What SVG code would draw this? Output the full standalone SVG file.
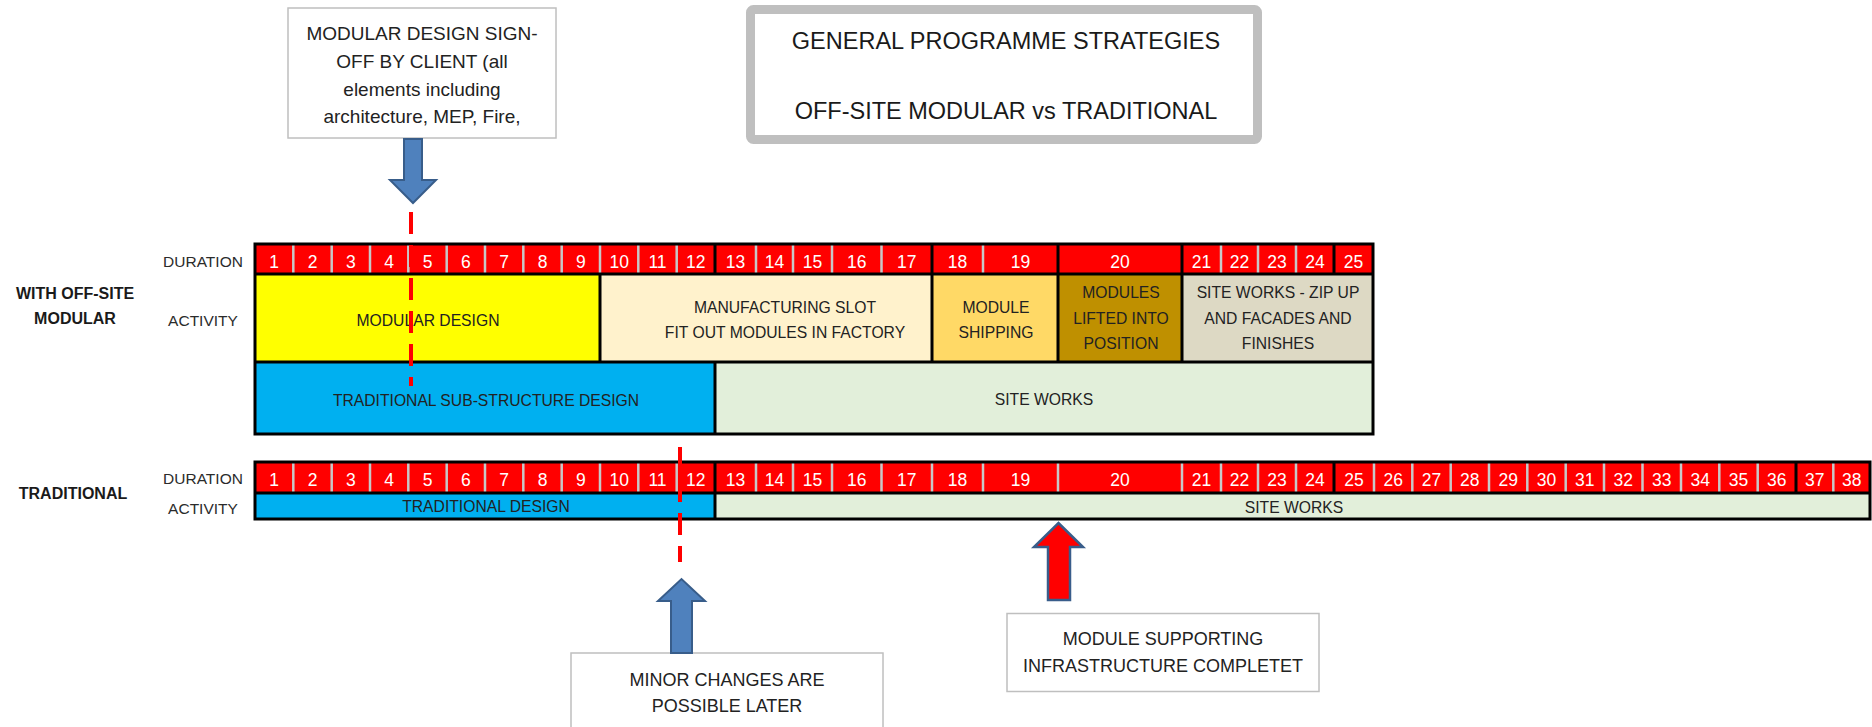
<svg xmlns="http://www.w3.org/2000/svg" width="1872" height="727" viewBox="0 0 1872 727">
  <style>
    text { font-family: "Liberation Sans", Arial, sans-serif; fill: #222; text-anchor: middle; }
    .lbl { font-size: 15.5px; fill: #2b2b2b; }
    .grp { font-size: 16px; font-weight: bold; fill: #1a1a1a; }
    .act { font-size: 15.7px; }
    .num { font-size: 17.5px; fill: #fff; }
    .note { font-size: 18px; fill: #222; }
    .title { font-size: 23.5px; fill: #1a1a1a; }
    .dur { fill: #ff0000; }
    .sep { stroke: #c8c8c8; stroke-width: 2.5; }
    .blk { stroke: #000; stroke-width: 3; fill: none; }
    .callout { fill: #fff; stroke: #bfbfbf; stroke-width: 1.5; }
    .dash { stroke: #ff0000; stroke-width: 4; stroke-dasharray: 22 11; fill: none; }
    .arrow-blue { fill: #4f81bd; stroke: #385d8a; stroke-width: 2; }
    .arrow-red { fill: #ff0000; stroke: #385d8a; stroke-width: 2.5; }
  </style>

  <!-- Title -->
  <g id="title">
    <rect x="750.5" y="9.5" width="507" height="130" rx="3" fill="#fff" stroke="#bfbfbf" stroke-width="9"/>
    <text class="title" x="1006" y="48.5">GENERAL PROGRAMME STRATEGIES</text>
    <text class="title" x="1006" y="118.5">OFF-SITE MODULAR vs TRADITIONAL</text>
  </g>

  <!-- Row labels -->
  <g id="labels-modular">
    <text class="grp" x="75" y="299">WITH OFF-SITE</text>
    <text class="grp" x="75" y="324">MODULAR</text>
    <text class="lbl" x="203" y="267">DURATION</text>
    <text class="lbl" x="203" y="325.5">ACTIVITY</text>
  </g>
  <g id="labels-traditional">
    <text class="grp" x="73" y="499">TRADITIONAL</text>
    <text class="lbl" x="203" y="484">DURATION</text>
    <text class="lbl" x="203" y="514">ACTIVITY</text>
  </g>

  <!-- Off-site modular programme -->
  <g id="modular-programme">
    <rect class="dur" x="255" y="244" width="1118" height="30"/>
    <g class="sep">
      <line x1="293.3" y1="244" x2="293.3" y2="274"/><line x1="331.7" y1="244" x2="331.7" y2="274"/>
      <line x1="370" y1="244" x2="370" y2="274"/><line x1="408.3" y1="244" x2="408.3" y2="274"/>
      <line x1="446.7" y1="244" x2="446.7" y2="274"/><line x1="485" y1="244" x2="485" y2="274"/>
      <line x1="523.3" y1="244" x2="523.3" y2="274"/><line x1="561.7" y1="244" x2="561.7" y2="274"/>
      <line x1="600" y1="244" x2="600" y2="274"/><line x1="638.3" y1="244" x2="638.3" y2="274"/>
      <line x1="676.7" y1="244" x2="676.7" y2="274"/>
      <line x1="756" y1="244" x2="756" y2="274"/><line x1="793" y1="244" x2="793" y2="274"/>
      <line x1="832" y1="244" x2="832" y2="274"/><line x1="881.5" y1="244" x2="881.5" y2="274"/>
      <line x1="983" y1="244" x2="983" y2="274"/>
      <line x1="1221" y1="244" x2="1221" y2="274"/><line x1="1258" y1="244" x2="1258" y2="274"/>
      <line x1="1296" y1="244" x2="1296" y2="274"/>
    </g>
    <g>
      <text class="num" x="274.2" y="268">1</text><text class="num" x="312.5" y="268">2</text>
      <text class="num" x="350.8" y="268">3</text><text class="num" x="389.2" y="268">4</text>
      <text class="num" x="427.5" y="268">5</text><text class="num" x="465.8" y="268">6</text>
      <text class="num" x="504.2" y="268">7</text><text class="num" x="542.5" y="268">8</text>
      <text class="num" x="580.8" y="268">9</text><text class="num" x="619.2" y="268">10</text>
      <text class="num" x="657.5" y="268">11</text><text class="num" x="695.8" y="268">12</text>
      <text class="num" x="735.5" y="268">13</text><text class="num" x="774.5" y="268">14</text>
      <text class="num" x="812.5" y="268">15</text><text class="num" x="856.8" y="268">16</text>
      <text class="num" x="906.8" y="268">17</text><text class="num" x="957.5" y="268">18</text>
      <text class="num" x="1020.5" y="268">19</text><text class="num" x="1120" y="268">20</text>
      <text class="num" x="1201.5" y="268">21</text><text class="num" x="1239.5" y="268">22</text>
      <text class="num" x="1277" y="268">23</text><text class="num" x="1315" y="268">24</text>
      <text class="num" x="1353.5" y="268">25</text>
    </g>

    <g id="modular-design">
      <rect x="255" y="274" width="345" height="88" fill="#ffff00"/>
      <text class="act" x="428" y="325.6">MODULAR DESIGN</text>
    </g>
    <g id="manufacturing-slot">
      <rect x="600" y="274" width="332" height="88" fill="#fff2cc"/>
      <text class="act" x="785" y="312.6">MANUFACTURING SLOT</text>
      <text class="act" x="785" y="337.6">FIT OUT MODULES IN FACTORY</text>
    </g>
    <g id="module-shipping">
      <rect x="932" y="274" width="126" height="88" fill="#ffd966"/>
      <text class="act" x="996" y="312.6">MODULE</text>
      <text class="act" x="996" y="337.6">SHIPPING</text>
    </g>
    <g id="modules-lifted">
      <rect x="1058" y="274" width="124" height="88" fill="#bf9000"/>
      <text class="act" x="1121" y="298">MODULES</text>
      <text class="act" x="1121" y="324.4">LIFTED INTO</text>
      <text class="act" x="1121" y="349.4">POSITION</text>
    </g>
    <g id="site-works-zip-up">
      <rect x="1182" y="274" width="191" height="88" fill="#ddd9c4"/>
      <text class="act" x="1278" y="298">SITE WORKS - ZIP UP</text>
      <text class="act" x="1278" y="324.4">AND FACADES AND</text>
      <text class="act" x="1278" y="349.4">FINISHES</text>
    </g>
    <g id="substructure-design">
      <rect x="255" y="362" width="460" height="72" fill="#00b0f0"/>
      <text class="act" x="486" y="405.6">TRADITIONAL SUB-STRUCTURE DESIGN</text>
    </g>
    <g id="modular-site-works">
      <rect x="715" y="362" width="658" height="72" fill="#e2efda"/>
      <text class="act" x="1044" y="404.6">SITE WORKS</text>
    </g>

    <!-- cell borders -->
    <rect class="blk" x="255" y="244" width="1118" height="190"/>
    <path class="blk" d="M255 274H1373M255 362H1373M715 244V274M932 244V362M1058 244V362M1182 244V362M1334 244V274M600 274V362M715 362V434"/>
  </g>

  <!-- Traditional programme -->
  <g id="traditional-programme">
    <rect class="dur" x="255" y="462" width="1615" height="31"/>
    <g class="sep">
      <line x1="293.3" y1="462" x2="293.3" y2="493"/><line x1="331.7" y1="462" x2="331.7" y2="493"/>
      <line x1="370" y1="462" x2="370" y2="493"/><line x1="408.3" y1="462" x2="408.3" y2="493"/>
      <line x1="446.7" y1="462" x2="446.7" y2="493"/><line x1="485" y1="462" x2="485" y2="493"/>
      <line x1="523.3" y1="462" x2="523.3" y2="493"/><line x1="561.7" y1="462" x2="561.7" y2="493"/>
      <line x1="600" y1="462" x2="600" y2="493"/><line x1="638.3" y1="462" x2="638.3" y2="493"/>
      <line x1="676.7" y1="462" x2="676.7" y2="493"/>
      <line x1="756" y1="462" x2="756" y2="493"/><line x1="793" y1="462" x2="793" y2="493"/>
      <line x1="832" y1="462" x2="832" y2="493"/><line x1="881.5" y1="462" x2="881.5" y2="493"/>
      <line x1="932" y1="462" x2="932" y2="493"/><line x1="983" y1="462" x2="983" y2="493"/>
      <line x1="1058" y1="462" x2="1058" y2="493"/><line x1="1182" y1="462" x2="1182" y2="493"/>
      <line x1="1221" y1="462" x2="1221" y2="493"/><line x1="1258" y1="462" x2="1258" y2="493"/>
      <line x1="1296" y1="462" x2="1296" y2="493"/>
      <line x1="1374" y1="462" x2="1374" y2="493"/><line x1="1412.3" y1="462" x2="1412.3" y2="493"/>
      <line x1="1450.7" y1="462" x2="1450.7" y2="493"/><line x1="1489" y1="462" x2="1489" y2="493"/>
      <line x1="1527.3" y1="462" x2="1527.3" y2="493"/><line x1="1565.7" y1="462" x2="1565.7" y2="493"/>
      <line x1="1604" y1="462" x2="1604" y2="493"/><line x1="1642.5" y1="462" x2="1642.5" y2="493"/>
      <line x1="1681" y1="462" x2="1681" y2="493"/><line x1="1719.3" y1="462" x2="1719.3" y2="493"/>
      <line x1="1757.7" y1="462" x2="1757.7" y2="493"/><line x1="1833.3" y1="462" x2="1833.3" y2="493"/>
    </g>
    <g>
      <text class="num" x="274.2" y="486">1</text><text class="num" x="312.5" y="486">2</text>
      <text class="num" x="350.8" y="486">3</text><text class="num" x="389.2" y="486">4</text>
      <text class="num" x="427.5" y="486">5</text><text class="num" x="465.8" y="486">6</text>
      <text class="num" x="504.2" y="486">7</text><text class="num" x="542.5" y="486">8</text>
      <text class="num" x="580.8" y="486">9</text><text class="num" x="619.2" y="486">10</text>
      <text class="num" x="657.5" y="486">11</text><text class="num" x="695.8" y="486">12</text>
      <text class="num" x="735.5" y="486">13</text><text class="num" x="774.5" y="486">14</text>
      <text class="num" x="812.5" y="486">15</text><text class="num" x="856.8" y="486">16</text>
      <text class="num" x="906.8" y="486">17</text><text class="num" x="957.5" y="486">18</text>
      <text class="num" x="1020.5" y="486">19</text><text class="num" x="1120" y="486">20</text>
      <text class="num" x="1201.5" y="486">21</text><text class="num" x="1239.5" y="486">22</text>
      <text class="num" x="1277" y="486">23</text><text class="num" x="1315" y="486">24</text>
      <text class="num" x="1354" y="486">25</text><text class="num" x="1393.2" y="486">26</text>
      <text class="num" x="1431.5" y="486">27</text><text class="num" x="1469.8" y="486">28</text>
      <text class="num" x="1508.2" y="486">29</text><text class="num" x="1546.5" y="486">30</text>
      <text class="num" x="1584.8" y="486">31</text><text class="num" x="1623.2" y="486">32</text>
      <text class="num" x="1661.8" y="486">33</text><text class="num" x="1700.2" y="486">34</text>
      <text class="num" x="1738.5" y="486">35</text><text class="num" x="1776.8" y="486">36</text>
      <text class="num" x="1814.7" y="486">37</text><text class="num" x="1851.7" y="486">38</text>
    </g>
    <g id="traditional-design">
      <rect x="255" y="493" width="460" height="26" fill="#00b0f0"/>
      <text class="act" x="486" y="512.3">TRADITIONAL DESIGN</text>
    </g>
    <g id="traditional-site-works">
      <rect x="715" y="493" width="1155" height="26" fill="#e2efda"/>
      <text class="act" x="1294" y="512.6">SITE WORKS</text>
    </g>
    <rect class="blk" x="255" y="462" width="1615" height="57"/>
    <path class="blk" d="M255 493H1870M715 462V519M1334 462V493M1796 462V493"/>
  </g>

  <!-- Notes -->
  <g id="note-sign-off">
    <rect class="callout" x="288" y="8" width="268" height="130"/>
    <text class="note" style="font-size:19px" x="422" y="40">MODULAR DESIGN SIGN-</text>
    <text class="note" style="font-size:19px" x="422" y="68">OFF BY CLIENT (all</text>
    <text class="note" style="font-size:19px" x="422" y="96">elements including</text>
    <text class="note" style="font-size:19px" x="422" y="123">architecture, MEP, Fire,</text>
  </g>
  <g id="note-minor-changes">
    <rect class="callout" x="571" y="653" width="312" height="80"/>
    <text class="note" x="727" y="686">MINOR CHANGES ARE</text>
    <text class="note" x="727" y="711.5">POSSIBLE LATER</text>
  </g>
  <g id="note-infrastructure">
    <rect class="callout" x="1007" y="613.5" width="312" height="78"/>
    <text class="note" x="1163" y="644.5">MODULE SUPPORTING</text>
    <text class="note" x="1163" y="672">INFRASTRUCTURE COMPLETET</text>
  </g>

  <!-- Connectors: milestone markers and block arrows -->
  <g id="connectors">
    <line class="dash" x1="411" y1="212" x2="411" y2="386"/>
    <line class="dash" x1="680" y1="447" x2="680" y2="562"/>
    <path class="arrow-blue" d="M404 139H422V180H436L413 203L390 180H404Z"/>
    <path class="arrow-blue" d="M671 653V601H658L681.5 579L705 601H692V653Z"/>
    <path class="arrow-red" d="M1048 600V547H1034L1058.5 523L1083 547H1070V600Z"/>
  </g>
</svg>
